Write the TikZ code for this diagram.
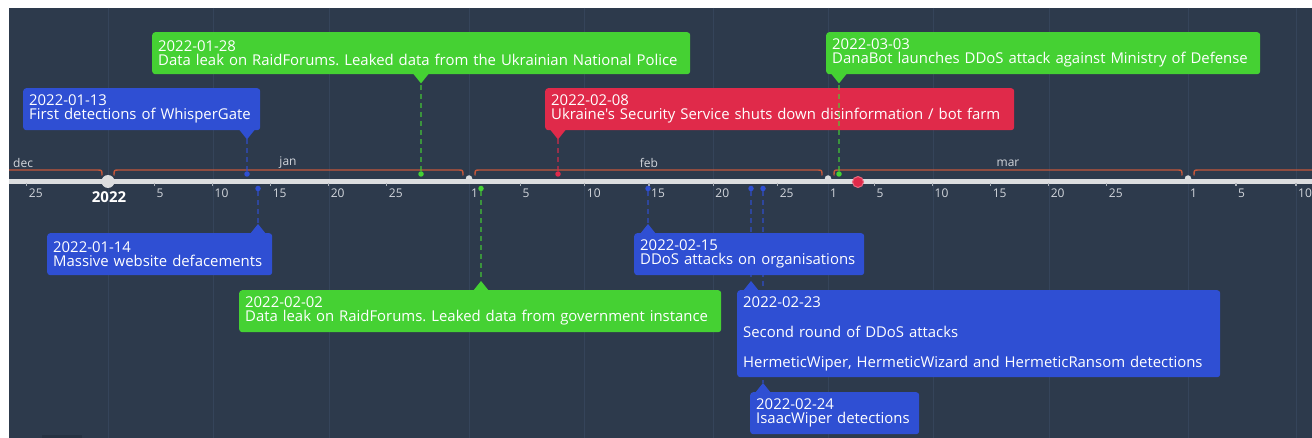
\documentclass[tikz,border=0pt]{standalone}
\usepackage{fontspec}
\setmainfont{Open Sans}[Ligatures=TeXOff]
\usetikzlibrary{calc}
\definecolor{bg}{HTML}{2D3A4C}
\definecolor{gridc}{HTML}{35445A}
\definecolor{axisc}{HTML}{DCDDDF}
\definecolor{tickc}{HTML}{AEB3BA}
\definecolor{brk}{HTML}{C4573B}
\definecolor{evblue}{HTML}{2F4FD3}
\definecolor{evgreen}{HTML}{45D133}
\definecolor{evred}{HTML}{E02A4A}
\definecolor{lbl}{HTML}{D2D6DC}
\definecolor{darkpatch}{HTML}{263242}
\pgfdeclarelayer{bglayer}
\pgfdeclarelayer{links}
\pgfdeclarelayer{front}
\pgfsetlayers{bglayer,links,main,front}
\frenchspacing
\begin{document}
\begin{tikzpicture}[x=1pt,y=-1pt,
  evbox/.style={fill=#1, rounded corners=3pt, text=white, anchor=north west, align=left,
    inner xsep=6pt, inner ysep=0pt, minimum height=42pt, font=\fontsize{14.9}{14.3}\selectfont},
  evdot/.style={circle, fill=#1, inner sep=0pt, minimum size=5.5pt},
  evlink/.style={draw=#1, draw opacity=0.6, line width=1.5pt, dash pattern=on 5pt off 4pt},
  ticklbl/.style={anchor=west, text=lbl, font=\fontsize{12}{12}\selectfont, inner sep=0pt},
  monlbl/.style={text=lbl, font=\fontsize{12}{12}\selectfont, inner sep=0pt},
  gridline/.style={draw=gridc, line width=1pt},
  bracket/.style={draw=brk, line width=1.4pt},
  mondot/.style={circle, fill=axisc, inner sep=0pt, minimum size=6.5pt},
]
\useasboundingbox (0,0) rectangle (1312,438);
\begin{pgfonlayer}{bglayer}
\fill[white] (0,0) rectangle (1312,438);
\fill[bg] (9,8) rectangle (1312,438);
\fill[darkpatch] (42,435) rectangle (82,438);
\clip (9,8) rectangle (1312,438);
% grid lines (days 1, 10, 20)
\foreach \x in {108,213,329,469,584,713,828,933,1049,1188,1296}
  \draw[gridline] (\x,8) -- (\x,438);
% month brackets
\foreach \S/\E in {-252/108,108/469,469/828,828/1188,1188/1548}
  \draw[bracket] (\S+6,175.5) .. controls (\S+6,170) .. (\S+11,170) -- (\E-11,170) .. controls (\E-6,170) .. (\E-6,175.5);
\node[monlbl, anchor=west] (mdec) at (13,163) {dec};
\node[monlbl] (mjan) at (288,163) {jan};
\node[monlbl] (mfeb) at (649,163) {feb};
\node[monlbl] (mmar) at (1008,163) {mar};
% axis
\draw[draw=axisc, line width=5.5pt] (9,181.5) -- (1312,181.5);
% ticks and labels
\foreach \S/\n/\days in {-252/31/{25},108/31/{5,10,15,20,25},469/28/{5,10,15,20,25},828/31/{5,10,15,20,25},1188/30/{5,10}} {
  \foreach \d in \days {
    \pgfmathsetmacro\xx{\S+(\d-1)*360/\n}
    \draw[draw=tickc, line width=1.2pt] (\xx,183) -- (\xx,186);
    \node[ticklbl] at (\xx+2,193.5) {\d};
  }
}
\foreach \S/\nm in {469/feb,828/mar,1188/apr} {
  \node[mondot] (dot\nm) at (\S,178.5) {};
  \node[ticklbl] (one\nm) at (\S+2,193.5) {1};
}
\node[circle, fill=axisc, inner sep=0pt, minimum size=13pt] (year) at (108,181.5) {};
\node[text=white, font=\fontsize{15}{16}\bfseries, inner sep=0pt] (yearlbl) at (109,197.5) {2022};
\node[circle, fill=evred, draw=evred!70!white, line width=1pt, inner sep=0pt, minimum size=11pt] (today) at (858,182) {};
\end{pgfonlayer}

% event dots
\node[evdot=evblue] (d1) at (247,174) {};
\node[evdot=evgreen] (d2) at (421,174) {};
\node[evdot=evred] (d3) at (558,174) {};
\node[evdot=evgreen] (d4) at (839,174) {};
\node[evdot=evblue] (d5) at (258,188.5) {};
\node[evdot=evgreen] (d6) at (481,188.5) {};
\node[evdot=evblue] (d7) at (648,188.5) {};
\node[evdot=evblue] (d8) at (751,188.5) {};
\node[evdot=evblue] (d9) at (763,188.5) {};

% boxes above the axis
\node[evbox=evgreen, text width=526pt] (b2) at (152,32) {2022-01-28\\Data leak on RaidForums. Leaked data from the Ukrainian National Police};
\node[evbox=evblue, text width=225pt] (b1) at (23,88) {2022-01-13\\First detections of WhisperGate};
\node[evbox=evgreen, text width=422pt] (b4) at (826,32) {2022-03-03\\DanaBot launches DDoS attack against Ministry of Defense};
\node[evbox=evred, text width=457pt] (b3) at (545,88) {2022-02-08\\Ukraine's Security Service shuts down disinformation / bot farm};
% boxes below the axis
\node[evbox=evblue, text width=213pt] (b5) at (47,233) {2022-01-14\\Massive website defacements};
\node[evbox=evgreen, text width=470pt] (b6) at (239,290) {2022-02-02\\Data leak on RaidForums. Leaked data from government instance};
\node[evbox=evblue, text width=218pt] (b7) at (634,233) {2022-02-15\\DDoS attacks on organisations};
\node[evbox=evblue, text width=471pt, minimum height=87pt] (b8) at (737,290) {2022-02-23\\[15.7pt]Second round of DDoS attacks\\[15.7pt]HermeticWiper, HermeticWizard and HermeticRansom detections};
\node[evbox=evblue, text width=157pt] (b9) at (750,392) {2022-02-24\\IsaacWiper detections};

% pointers (top boxes point down, bottom boxes point up)
\foreach \b/\d/\c in {b1/d1/evblue,b2/d2/evgreen,b3/d3/evred,b4/d4/evgreen} {
  \fill[\c] ($(\b.south -| \d)+(-8,-1)$) -- ($(\b.south -| \d)+(8,-1)$) -- ($(\b.south -| \d)+(0,9)$) -- cycle;
  \coordinate (t\d) at ($(\b.south -| \d)+(0,9)$);
}
\foreach \b/\d/\c in {b5/d5/evblue,b6/d6/evgreen,b7/d7/evblue,b8/d8/evblue,b9/d9/evblue} {
  \fill[\c] ($(\b.north -| \d)+(-8,1)$) -- ($(\b.north -| \d)+(8,1)$) -- ($(\b.north -| \d)+(0,-9)$) -- cycle;
  \coordinate (t\d) at ($(\b.north -| \d)+(0,-9)$);
}

% dashed connectors
\begin{pgfonlayer}{links}
\draw[evlink=evblue] (d1) -- (td1);
\draw[evlink=evgreen] (d2) -- (td2);
\draw[evlink=evred] (d3) -- (td3);
\draw[evlink=evblue] (d5) -- (td5);
\draw[evlink=evgreen] (d6) -- (td6);
\draw[evlink=evblue] (d7) -- (td7);
\draw[evlink=evblue] (d8) -- (td8);
\draw[evlink=evblue] (d9) -- (td9);
\end{pgfonlayer}
\begin{pgfonlayer}{front}
\draw[evlink=evgreen] (d4) -- (td4);
\end{pgfonlayer}
\end{tikzpicture}
\end{document}
